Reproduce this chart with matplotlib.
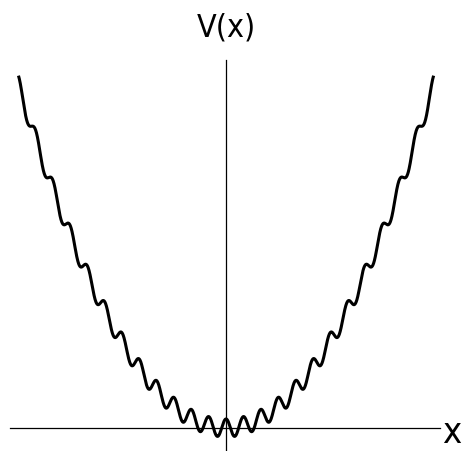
import numpy as np
import matplotlib.pyplot as plt

# V(x) = c*x^2 + A*cos(2*pi*x): parabola with a ripple, one ripple period = 1 unit
x_end = 12.0
curvature = 0.265
ripple_amp = 1.0

x_lim = (-12.49, 12.37)
v_lim = (-2.56, 40.9)

x = np.linspace(-x_end, x_end, 3000)
v = curvature * x**2 + ripple_amp * np.cos(2 * np.pi * x)

font = ['DejaVu Sans Condensed', 'Liberation Sans Narrow', 'DejaVu Sans']

fig = plt.figure(figsize=(4.62, 4.51), dpi=100)
ax = fig.add_axes([10 / 462, 0.0, 430 / 462, 391 / 451])
ax.plot(x, v, color='black', lw=2.2, solid_capstyle='butt')

ax.set_xlim(*x_lim)
ax.set_ylim(*v_lim)
ax.spines['left'].set_position(('data', 0))
ax.spines['bottom'].set_position(('data', 0))
ax.spines['right'].set_visible(False)
ax.spines['top'].set_visible(False)
for s in ('left', 'bottom'):
    ax.spines[s].set_linewidth(0.9)
ax.set_xticks([])
ax.set_yticks([])
ax.patch.set_visible(False)

fig.text(226 / 462, 1 - 28 / 451, 'V(x)', ha='center', va='center',
         fontsize=23, family=font, stretch='condensed')
fig.text(461 / 462, 1 / 451, 'x', ha='right', va='bottom',
         fontsize=26, family=font, stretch='condensed')

fig.savefig('out.png', dpi=100)
